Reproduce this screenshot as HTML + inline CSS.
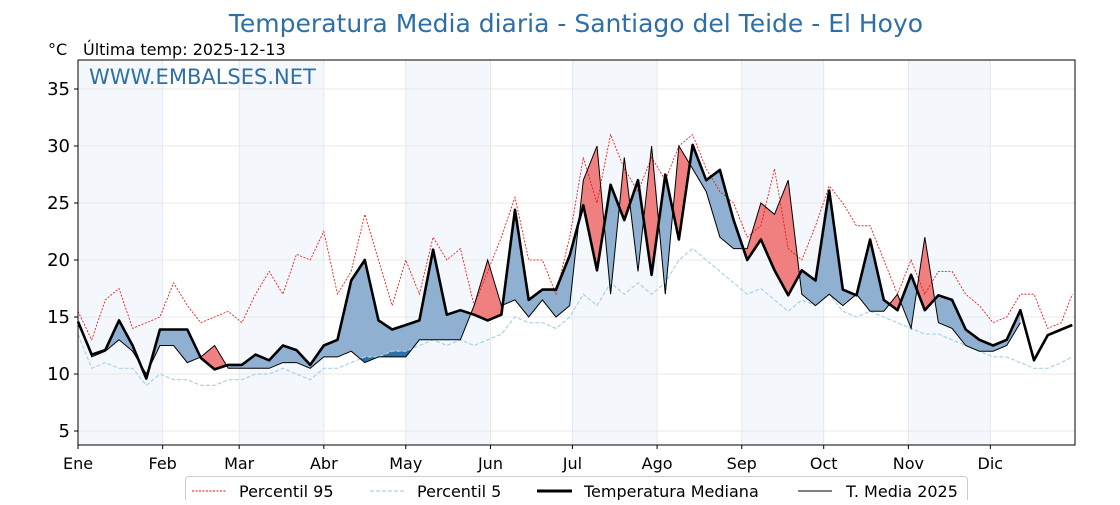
<!DOCTYPE html>
<html><head><meta charset="utf-8">
<style>
body{margin:0;background:#fff;font-family:"Liberation Sans","DejaVu Sans",sans-serif;}
svg text{font-family:"DejaVu Sans","Liberation Sans",sans-serif;}
</style></head>
<body>
<svg id="chart" width="1120" height="500" viewBox="0 0 1120 500" xmlns="http://www.w3.org/2000/svg">
<text x="576" y="32" font-size="25" fill="#2e6fa5" text-anchor="middle">Temperatura Media diaria - Santiago del Teide - El Hoyo</text>
<text x="48" y="55" font-size="16" fill="#000">°C</text>
<text x="83" y="55" font-size="16" fill="#000">Última temp: 2025-12-13</text>
<g id="bands"></g>
<g id="grid"></g>
<g id="fills"></g>
<g id="lines"></g>
<rect x="78" y="60" width="997" height="385" fill="none" stroke="#000" stroke-width="1"/>
<text x="89" y="84" font-size="21" fill="#2e6fa5">WWW.EMBALSES.NET</text>
<g id="axes"></g>
<g>
<rect x="185.5" y="476.5" width="782" height="30" rx="3" fill="#fff" stroke="#ccc"/>
<line x1="192" y1="491" x2="226" y2="491" stroke="red" stroke-width="1" stroke-dasharray="2,1.5"/>
<text x="239" y="497" font-size="16">Percentil 95</text>
<line x1="370" y1="491" x2="405" y2="491" stroke="#a8d4e6" stroke-width="1.2" stroke-dasharray="4,2"/>
<text x="417" y="497" font-size="16">Percentil 5</text>
<line x1="537" y1="491" x2="572" y2="491" stroke="#000" stroke-width="3"/>
<text x="584" y="497" font-size="16">Temperatura Mediana</text>
<line x1="798" y1="491" x2="832" y2="491" stroke="#000" stroke-width="1"/>
<text x="846" y="497" font-size="16">T. Media 2025</text>
</g>
</svg>
<script>
const days=[0,5,10,15,20,25,30,35,40,45,50,55,60,65,70,75,80,85,90,95,100,105,110,115,120,125,130,135,140,145,150,155,160,165,170,175,180,185,190,195,200,205,210,215,220,225,230,235,240,245,250,255,260,265,270,275,280,285,290,295,300,305,310,315,320,325,330,335,340,345,350,355,360,364];
const median=[14.6,11.7,12.1,14.7,12.5,9.6,13.9,13.9,13.9,11.4,10.4,10.8,10.8,11.7,11.2,12.5,12.1,10.8,12.5,13.0,18.2,20.0,14.7,13.9,14.3,14.7,20.9,15.2,15.6,15.2,14.7,15.2,24.4,16.5,17.4,17.4,20.4,24.8,19.1,26.6,23.5,27.0,18.7,27.5,21.8,30.1,27.0,27.9,23.5,20.0,21.8,19.1,16.9,19.1,18.2,26.1,17.4,16.9,21.8,16.5,15.6,18.7,15.6,16.9,16.5,13.9,13.0,12.5,13.0,15.6,11.2,13.4,13.9,14.3];
const t2025=[14.6,11.5,12.0,13.0,12.0,10.0,12.5,12.5,11.0,11.5,12.5,10.5,10.5,10.5,10.5,11.0,11.0,10.5,11.5,11.5,12.0,11.0,11.5,11.5,11.5,13.0,13.0,13.0,13.0,16.0,20.0,16.0,16.5,15.0,16.5,15.0,16.0,27.0,30.0,17.0,29.0,19.0,30.0,17.0,30.0,28.0,26.0,22.0,21.0,21.0,25.0,24.0,27.0,17.0,16.0,17.0,16.0,17.0,15.5,15.5,17.0,14.0,22.0,14.5,14.0,12.5,12.0,12.0,12.5,14.5,null,null,null,null];
const p95=[15.5,13,16.5,17.5,14,14.5,15,18,16,14.5,15,15.5,14.5,17,19,17,20.5,20,22.5,17,19,24,20,16,20,17,22,20,21,16,19,22,25.5,20,20,17,22,29,25,31,28,26,29,27,30,31,28,26,25,22,23,28,21,20,23,26.5,25,23,23,20,17,20,17,19,19,17,16,14.5,15,17,17,14,14.5,17];
const p5=[13.5,10.5,11,10.5,10.5,9,10,9.5,9.5,9,9,9.5,9.5,10,10,10.5,10,9.5,10.5,10.5,11,11.5,11.5,12,12,12.5,13,12.5,13,12.5,13,13.5,15,14.5,14.5,14,15,17,16,18,17,18,17,18,20,21,20,19,18,17,17.5,16.5,15.5,16.5,16,17,15.5,15,15.5,15,14.5,14,13.5,13.5,13,12.5,12,11.5,11.5,11,10.5,10.5,11,11.5];
const yTicks=[5,10,15,20,25,30,35];
const monthLabels=["Ene","Feb","Mar","Abr","May","Jun","Jul","Ago","Sep","Oct","Nov","Dic"];
const monthStarts=[0,31,59,90,120,151,181,212,243,273,304,334];

const NS="http://www.w3.org/2000/svg";
const X0=78,X1=1075,Y0=60,Y1=445;
function xs(d){return X0+d*(X1-X0)/365;}
function ys(v){return 488-v*11.4;}
function mk(tag,attrs,parent){const e=document.createElementNS(NS,tag);for(const k in attrs)e.setAttribute(k,attrs[k]);parent.appendChild(e);return e;}
const bands=document.getElementById('bands'),grid=document.getElementById('grid'),fills=document.getElementById('fills'),lines=document.getElementById('lines'),axes=document.getElementById('axes'),svg=document.getElementById('chart');

monthStarts.forEach((m,i)=>{
  const end=i<11?monthStarts[i+1]:365;
  if(i%2===0){const r=mk('rect',{x:xs(m),y:Y0,width:xs(end)-xs(m),height:Y1-Y0,fill:'#f4f8fc'},bands);
    
    }
  const g=mk('line',{x1:xs(m),y1:Y0,x2:xs(m),y2:Y1,stroke:'#e3e8ee','stroke-width':1},grid);
  
  
  const t=mk('text',{x:xs(m),y:469,'font-size':16,'text-anchor':'middle'},axes);
  t.textContent=monthLabels[i];
  
  
  mk('line',{x1:xs(m),y1:Y1,x2:xs(m),y2:Y1+4,stroke:'#000'},axes);
});
yTicks.forEach(v=>{
  const g=mk('line',{x1:X0,y1:ys(v),x2:X1,y2:ys(v),stroke:'#e8e8e8','stroke-width':1},grid);
  
  
  mk('line',{x1:X0-4,y1:ys(v),x2:X0,y2:ys(v),stroke:'#000'},axes);
  const t=mk('text',{x:X0-8,y:ys(v)+6,'font-size':18,'text-anchor':'end'},axes);
  t.textContent=v;
  
  
});

function pts(arr){const p=[];arr.forEach((v,i)=>{if(v!==null)p.push([xs(days[i]),ys(v)]);});return p;}
function pathD(p){return p.map((q,i)=>(i?'L':'M')+q[0].toFixed(1)+','+q[1].toFixed(1)).join(' ');}
const mP=pts(median),tP=pts(t2025);
const n=tP.length;
const defs=mk('defs',{},svg);
const cA=mk('clipPath',{id:'above'},defs);
mk('path',{d:pathD(mP)+` L${X1},${Y0} L${X0},${Y0} Z`},cA);
const cB=mk('clipPath',{id:'below'},defs);
mk('path',{d:pathD(mP)+` L${X1},${Y1} L${X0},${Y1} Z`},cB);
const between=pathD(tP)+' '+mP.slice(0,n).reverse().map(q=>'L'+q[0].toFixed(1)+','+q[1].toFixed(1)).join(' ')+' Z';
const fr=mk('path',{d:between,fill:'#f08080','clip-path':'url(#above)'},fills);


const fb=mk('path',{d:between,fill:'#8fb0d0','clip-path':'url(#below)'},fills);


const p5P=pts(p5);
const cC=mk('clipPath',{id:'belowp5'},defs);
mk('path',{d:pathD(p5P)+` L${X1},${Y1} L${X0},${Y1} Z`},cC);
const fd=mk('path',{d:between,fill:'#2e6fa5','clip-path':'url(#belowp5)'},fills);



const l95=mk('path',{d:pathD(pts(p95)),fill:'none',stroke:'red','stroke-width':0.8,'stroke-dasharray':'2,1.5'},lines);


const l5=mk('path',{d:pathD(p5P),fill:'none',stroke:'#a8d4e6','stroke-width':1.2,'stroke-dasharray':'4,2'},lines);


const lt=mk('path',{d:pathD(tP),fill:'none',stroke:'#000','stroke-width':1},lines);


const lm=mk('path',{d:pathD(mP),fill:'none',stroke:'#000','stroke-width':2.6,'stroke-linejoin':'round'},lines);


</script>
</body></html>
